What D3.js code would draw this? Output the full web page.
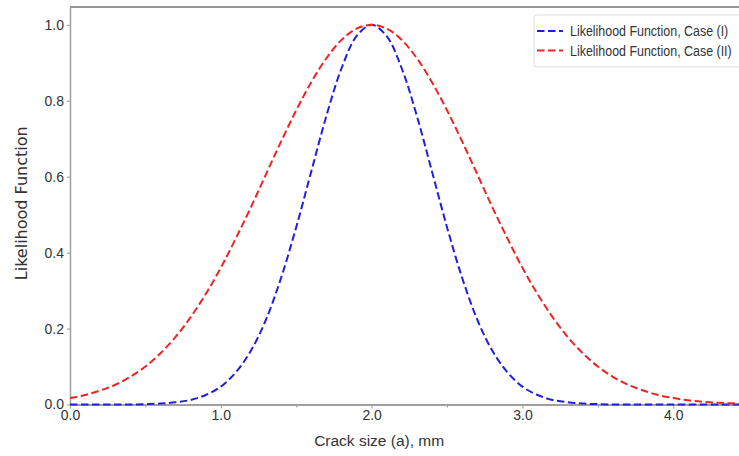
<!DOCTYPE html>
<html>
  <head>
    <meta charset="utf-8">
    <title>Likelihood function</title>
    <script src="https://cdn.jsdelivr.net/npm/d3@7"></script>
    <style>
      body { margin: 0; background: #fff; }
      #chart { display: block; }
      .tick text { font-family: "Liberation Sans", sans-serif; font-size: 14px; fill: #333; }
      .tick line { stroke: #999; }
      .domain { stroke: #a0a0a0; stroke-width: 2px; }
      .axisLabel { font-family: "Liberation Sans", sans-serif; font-size: 15.5px; fill: #333; }
      .yLabel { font-family: "DejaVu Sans", sans-serif; font-size: 16px; fill: #333; }
      .legendText { font-family: "Liberation Sans", sans-serif; font-size: 15px; fill: #333; }
      .line { fill: none; stroke-width: 2px; stroke-dasharray: 7.5 3.5; }
    </style>
  </head>

  <body>
    <svg id="chart" width="739" height="456"></svg>

    <script>
      // data
      sizes = [0.0, 0.1, 0.2, 0.3, 0.4, 0.5, 0.6, 0.7, 0.8, 0.9,
        1.0, 1.1, 1.2, 1.3, 1.4, 1.5, 1.6, 1.7, 1.8, 1.9,
        2.0, 2.1, 2.2, 2.3, 2.4, 2.5, 2.6, 2.7, 2.8, 2.9,
        3.0, 3.1, 3.2, 3.3, 3.4, 3.5, 3.6, 3.7, 3.8, 3.9,
        4.0, 4.1, 4.2, 4.3, 4.4, 4.5];
      caseI = [0, 0, 0, 0, 0, 0.001, 0.0025, 0.006, 0.012, 0.025,
        0.047, 0.085, 0.142, 0.224, 0.334, 0.467, 0.614, 0.760, 0.885, 0.970,
        1.0, 0.970, 0.885, 0.760, 0.614, 0.467, 0.334, 0.224, 0.142, 0.085,
        0.047, 0.025, 0.012, 0.006, 0.0025, 0.001, 0, 0, 0, 0,
        0, 0, 0, 0, 0, 0];
      caseII = [0.017, 0.025, 0.037, 0.052, 0.073, 0.100, 0.135, 0.178, 0.230, 0.291,
        0.360, 0.438, 0.520, 0.607, 0.693, 0.775, 0.849, 0.912, 0.960, 0.990,
        1.0, 0.990, 0.960, 0.912, 0.849, 0.775, 0.693, 0.607, 0.520, 0.438,
        0.360, 0.291, 0.230, 0.178, 0.135, 0.100, 0.073, 0.052, 0.037, 0.025,
        0.017, 0.011, 0.007, 0.0045, 0.003, 0.002];
      seriesNames = ["Likelihood Function, Case (I)", "Likelihood Function, Case (II)"];
      seriesColours = ["#1f1fe0", "#ee2424"];
      xTicks = [0, 1, 2, 3, 4];
      xMinorTicks = [0.5, 1.5, 2.5, 3.5];
      yTicks = [0, 0.2, 0.4, 0.6, 0.8, 1.0];

      chart = d3.select("#chart");
      margin = { top: 7, right: 0, bottom: 51.5, left: 70 };
      width = 739;
      height = 456;

      // scales
      x = d3.scaleLinear()
        .domain([0, 4.436])
        .range([margin.left, width - margin.right]);
      y = d3.scaleLinear()
        .domain([0, 1.047])
        .range([height - margin.bottom, margin.top]);

      // x axis
      chart.append("g")
        .attr("transform", "translate(0, " + y(0) + ")")
        .call(d3.axisBottom(x)
          .tickValues(xMinorTicks)
          .tickFormat("")
          .tickSizeOuter(0)
          .tickSizeInner(3));
      chart.append("g")
        .attr("transform", "translate(0, " + y(0) + ")")
        .call(d3.axisBottom(x)
          .tickValues(xTicks)
          .tickFormat(d3.format(".1f"))
          .tickSizeOuter(0)
          .tickSizeInner(4)
          .tickPadding(2));

      // y axis
      chart.append("g")
        .attr("transform", "translate(" + margin.left + ", 0)")
        .call(d3.axisLeft(y)
          .tickValues(yTicks)
          .tickFormat(d3.format(".1f"))
          .tickSizeOuter(0)
          .tickSizeInner(3)
          .tickPadding(3))
        .select(".domain")
          .style("stroke-width", "1.5px");

      // top spine
      chart.append("line")
        .attr("x1", margin.left)
        .attr("x2", width)
        .attr("y1", y(1.047))
        .attr("y2", y(1.047))
        .style("stroke", "#959595")
        .style("stroke-width", "2px");

      // axis titles
      chart.append("text")
        .attr("class", "axisLabel")
        .attr("x", x(2.05))
        .attr("y", 446)
        .attr("text-anchor", "middle")
        .text("Crack size (a), mm");
      chart.append("text")
        .attr("class", "yLabel")
        .attr("transform", "translate(27, " + y(0.53) + ") rotate(-90)")
        .attr("text-anchor", "middle")
        .text("Likelihood Function");

      // lines
      line = d3.line()
        .x(function(d) { return x(d[0]); })
        .y(function(d) { return y(d[1]); })
        .curve(d3.curveCatmullRom);
      chart.append("clipPath")
        .attr("id", "plotClip")
        .append("rect")
          .attr("x", margin.left)
          .attr("y", margin.top)
          .attr("width", width - margin.left)
          .attr("height", y(0) - margin.top + 2);
      [caseI, caseII].forEach(function(values, i) {
        chart.append("path")
          .attr("class", "line")
          .attr("clip-path", "url(#plotClip)")
          .attr("d", line(d3.zip(sizes, values)))
          .style("stroke", seriesColours[i]);
      });

      // legend
      legend = chart.append("g")
        .attr("transform", "translate(534, 15)");
      legend.append("rect")
        .attr("width", 215)
        .attr("height", 52)
        .attr("rx", 3)
        .style("fill", "#fff")
        .style("stroke", "#ddd");
      seriesNames.forEach(function(name, i) {
        legend.append("line")
          .attr("class", "line")
          .attr("x1", 3)
          .attr("x2", 29)
          .attr("y1", 16 + i * 19.5)
          .attr("y2", 16 + i * 19.5)
          .style("stroke", seriesColours[i]);
        // the reference lettering is narrow, so squeeze it a little
        legend.append("text")
          .attr("class", "legendText")
          .attr("transform", "translate(36, " + (16 + i * 19.5) + ") scale(0.83, 1)")
          .attr("dy", "0.35em")
          .text(name);
      });
    </script>
  </body>
</html>
